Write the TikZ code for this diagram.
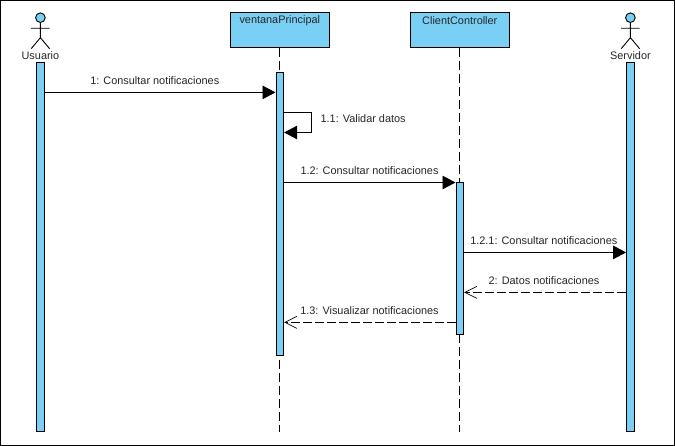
\documentclass[tikz,border=0pt]{standalone}
\usepackage{fontspec}
\setmainfont{Liberation Sans}
\usetikzlibrary{arrows.meta}
\definecolor{umlblue}{HTML}{7ACFF5}
\tikzset{
	headbox/.style={draw,fill=umlblue,line width=1pt,minimum width=99pt,minimum height=35pt,inner sep=0pt},
	bar/.style={draw,fill=umlblue,line width=1pt,minimum width=7.6pt,inner sep=0pt},
	lifeline/.style={-,line width=0.9pt,dash pattern=on 9pt off 4pt},
	call/.style={-{Triangle[length=13pt,width=13.5pt]},line width=0.9pt},
	reply/.style={-{Straight Barb[length=12pt,width=12pt,line width=0.7pt]},line width=0.9pt,dash pattern=on 9pt off 3pt},
	msg/.style={inner sep=0pt,text=black!85,font=\fontsize{10.9pt}{12pt}\selectfont},
	actor/.pic={
		\node[circle,draw,fill=umlblue,line width=0.9pt,minimum size=9.6pt,inner sep=0pt] (-head) at (0,17.7) {};
		\draw[line width=0.9pt] (-head) -- (0,37.7) -- (-9.2,48.7) (0,37.7) -- (9.2,48.7) (-9.2,28.3) -- (9.2,28.3);
	}
}
\begin{document}
\begin{tikzpicture}[x=1pt,y=-1pt]
	\useasboundingbox (0,0) rectangle (675,446);
	\draw[line width=1pt] (0.5,0.5) rectangle (674.5,445.5);

	\pic (usuario) at (40.4,0) {actor};
	\pic (servidor) at (630.4,0) {actor};
	\node[msg] (usuarioLabel) at (40.4,56) {Usuario};
	\node[msg] (servidorLabel) at (630.4,56) {Servidor};
	\node[headbox] (ventana) at (279.8,29.8) {};
	\node[msg] (ventanaLabel) at (279.8,20.5) {ventanaPrincipal};
	\node[headbox] (client) at (459.8,29.8) {};
	\node[msg] (clientLabel) at (459.8,20.5) {ClientController};

	\coordinate (ventanaEnd) at (279.8,431.7);
	\coordinate (clientEnd) at (459.8,431.7);
	\draw[lifeline] (ventana) -- (ventanaEnd);
	\draw[lifeline] (client) -- (clientEnd);

	\node[bar,minimum height=369.4pt] (usuarioBar) at (40.4,247) {};
	\node[bar,minimum height=283pt] (ventanaBar) at (279.8,213.8) {};
	\node[bar,minimum height=151.7pt] (clientBar) at (459.8,258.2) {};
	\node[bar,minimum height=369.4pt] (servidorBar) at (630.4,247) {};

	\coordinate (selfOut) at (311,112.5);
	\coordinate (selfBack) at (311,132.5);

	\draw[call] (usuarioBar.east |- 0,92.4) -- (ventanaBar.west |- 0,92.4);
	\draw[call] (ventanaBar.east |- selfOut) -- (selfOut) -- (selfBack) -- (ventanaBar.east |- selfBack);
	\draw[call] (ventanaBar.east |- 0,182.5) -- (clientBar.west |- 0,182.5);
	\draw[call] (clientBar.east |- 0,252.4) -- (servidorBar.west |- 0,252.4);
	\draw[reply] (servidorBar.west |- 0,292.4) -- (clientBar.east |- 0,292.4);
	\draw[reply] (clientBar.west |- 0,322.4) -- (ventanaBar.east |- 0,322.4);

	\node[msg] (m1) at (154.8,80.5) {1: Consultar notificaciones};
	\node[msg,anchor=west] (m11) at (320.4,118.5) {1.1: Validar datos};
	\node[msg] (m12) at (369.5,170.5) {1.2: Consultar notificaciones};
	\node[msg] (m121) at (543.8,240.5) {1.2.1: Consultar notificaciones};
	\node[msg] (m2) at (544,280.5) {2: Datos notificaciones};
	\node[msg] (m13) at (369.5,310.5) {1.3: Visualizar notificaciones};
\end{tikzpicture}
\end{document}
